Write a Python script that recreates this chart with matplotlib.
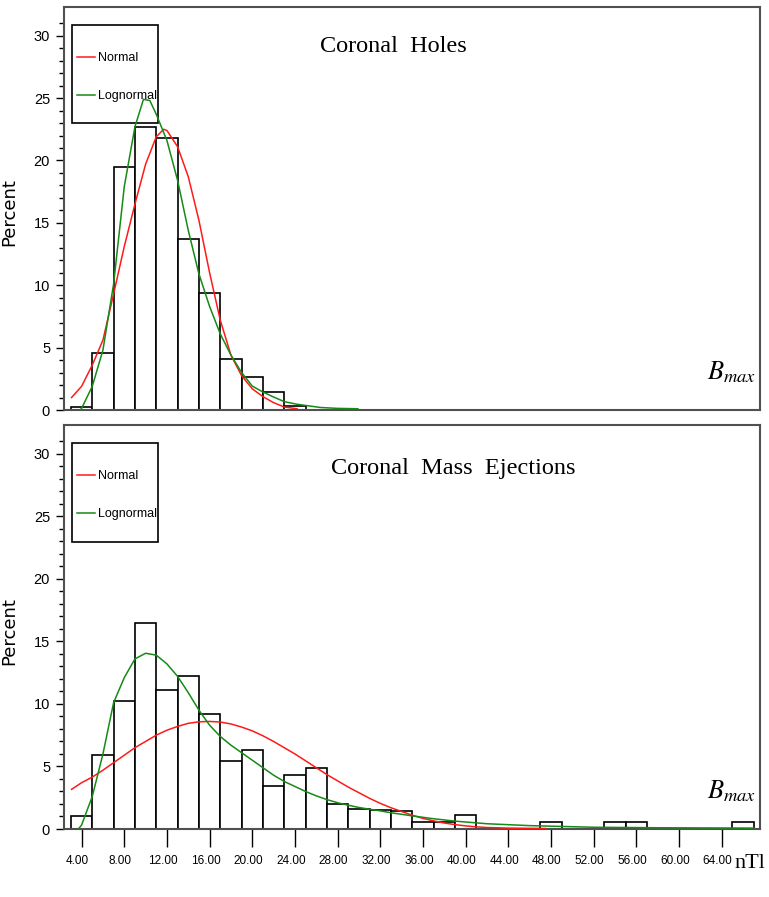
import matplotlib
matplotlib.use("Agg")
import matplotlib.pyplot as plt
import matplotlib.transforms as mtransforms
from matplotlib.lines import Line2D
from matplotlib.patches import Rectangle

# histogram bins (centres, width 2) and percentages
ch_bins = [4, 6, 8, 10, 12, 14, 16, 18, 20, 22, 24]
ch_pct = [0.25, 4.6, 19.5, 22.7, 21.8, 13.7, 9.4, 4.05, 2.67, 1.47, 0.32]

cme_bins = [4, 6, 8, 10, 12, 14, 16, 18, 20, 22, 24, 26, 28, 30, 32, 34,
            36, 38, 40, 42, 44, 46, 48, 50, 52, 54, 56, 58, 60, 62, 64, 66]
cme_pct = [1.06, 5.94, 10.2, 16.5, 11.15, 12.2, 9.18, 5.4, 6.3, 3.43, 4.34, 4.9,
           1.97, 1.57, 1.5, 1.46, 0.53, 0.53, 1.1, 0, 0, 0, 0.53, 0, 0, 0.53,
           0.53, 0, 0, 0, 0, 0.53]

# fitted curves
ch_norm_x = [3.06, 4, 5, 6, 7, 8, 9, 10, 11, 11.7, 12, 13, 14, 15, 16, 17, 18,
             19, 20, 21, 22, 23, 24.2]
ch_norm_y = [1.0, 1.9, 3.6, 5.6, 9.3, 13.1, 16.5, 19.7, 21.9, 22.5, 22.4, 21.1,
             18.7, 15.2, 11.0, 7.2, 4.4, 2.75, 1.7, 1.07, 0.59, 0.24, 0.1]
ch_logn_x = [3.85, 4, 5, 6, 7, 8, 9, 9.8, 10.4, 11, 12, 13, 14, 15, 16, 17, 18,
             19, 20, 21, 22, 23, 24.2, 25.3, 26.4, 28, 29.9]
ch_logn_y = [0, 0.13, 1.9, 4.8, 10.1, 17.9, 22.7, 24.9, 24.8, 23.7, 21.6, 18.4,
             14.4, 10.9, 8.3, 6.1, 4.4, 3.0, 1.92, 1.44, 1.04, 0.67, 0.46, 0.33,
             0.2, 0.13, 0.1]

cme_norm_x = [3.06, 4, 5, 6, 7, 8, 9, 10, 11, 12, 13, 14, 15, 16, 17, 18, 19,
              20, 21, 22, 23, 24, 25, 26, 27, 28, 29, 30, 31, 32, 33, 34, 35,
              36, 37, 38, 39, 40, 41, 42, 44, 47.5]
cme_norm_y = [3.17, 3.7, 4.15, 4.7, 5.3, 5.9, 6.5, 7.0, 7.5, 7.9, 8.2, 8.45,
              8.57, 8.6, 8.55, 8.4, 8.15, 7.85, 7.45, 7.0, 6.5, 6.0, 5.45, 4.9,
              4.35, 3.85, 3.35, 2.9, 2.45, 2.05, 1.7, 1.4, 1.1, 0.85, 0.65,
              0.48, 0.35, 0.25, 0.17, 0.12, 0.07, 0.04]
cme_logn_x = [3.7, 4, 5, 6, 7, 8, 9, 10, 11, 12, 13, 14, 15, 16, 17, 18, 19,
              20, 21, 22, 23, 24, 25, 26, 27, 28, 29, 30, 31, 32, 33, 35, 37,
              39, 42, 46, 52, 58, 67]
cme_logn_y = [0, 0.32, 2.6, 6.0, 10.1, 12.1, 13.6, 14.05, 13.9, 13.2, 12.2,
              10.9, 9.5, 8.3, 7.4, 6.7, 6.1, 5.5, 4.9, 4.3, 3.8, 3.4, 3.0, 2.65,
              2.35, 2.1, 1.9, 1.72, 1.58, 1.45, 1.3, 1.05, 0.82, 0.63, 0.42,
              0.27, 0.14, 0.1, 0.07]

xticks = list(range(4, 65, 4))
xticklabels = ["%.2f" % t for t in xticks]

sans = ["Liberation Sans", "DejaVu Sans"]
serif = ["Liberation Serif", "DejaVu Serif"]
plt.rcParams["mathtext.fontset"] = "stix"

fig = plt.figure(figsize=(7.69, 8.97), dpi=100)
W, H = 769.0, 897.0
ax1 = fig.add_axes([64 / W, 1 - 410 / H, 696 / W, 403 / H])
ax2 = fig.add_axes([64 / W, 1 - 829 / H, 696 / W, 404 / H])


def panel(ax, bins, pct, nx, ny, lx, ly, title, tx, ty):
    ax.bar(bins, pct, width=2, color="white", edgecolor="black", linewidth=1.2, zorder=2)
    ax.plot(nx, ny, color="#ff1a1a", lw=1.1, zorder=4)
    ax.plot(lx, ly, color="#168a16", lw=1.1, zorder=4)
    ax.set_xlim(2.35, 67.6)
    ax.set_ylim(0, 32.3)
    for s in ax.spines.values():
        s.set_color("#505050")
        s.set_linewidth(1.5)
    ax.set_yticks(range(0, 31, 5))
    ax.set_yticks(range(0, 32), minor=True)
    ax.tick_params(axis="y", which="major", length=6, width=1, pad=4, labelsize=10.5)
    ax.tick_params(axis="y", which="minor", length=3.8, width=1)
    for lab in ax.get_yticklabels():
        lab.set_family(sans)
    ax.set_ylabel("Percent", fontsize=13, labelpad=0)
    ax.yaxis.set_label_coords(-0.066, 0.49)
    ax.text(tx, ty, title, transform=ax.transAxes, ha="center", va="center",
            family=serif, fontsize=17.5)
    ax.text(0.924, 0.075, r"$B_{max}$", transform=ax.transAxes, ha="left",
            va="baseline", fontsize=19)
    # legend box drawn on its own, the fitted curves run over it in the original
    ax.add_patch(Rectangle((0.011, 0.711), 0.1245, 0.244, transform=ax.transAxes,
                           facecolor="white", edgecolor="black", lw=1.2, zorder=3))
    handles = [Line2D([], [], color="#ff1a1a", lw=1.1),
               Line2D([], [], color="#168a16", lw=1.1)]
    leg = ax.legend(handles, ["Normal", "Lognormal"], loc="upper left",
                    bbox_to_anchor=(0.0182, 0.888), borderaxespad=0,
                    frameon=False, prop={"family": sans, "size": 9},
                    handlelength=1.45, handletextpad=0.25, labelspacing=2.1,
                    borderpad=0)
    leg.set_zorder(3.5)


panel(ax1, ch_bins, ch_pct, ch_norm_x, ch_norm_y, ch_logn_x, ch_logn_y,
      "Coronal  Holes", (393 - 64) / 696, (410 - 46) / 403)
panel(ax2, cme_bins, cme_pct, cme_norm_x, cme_norm_y, cme_logn_x, cme_logn_y,
      "Coronal  Mass  Ejections", (453 - 64) / 696, (829 - 468) / 404)

ax1.tick_params(axis="x", bottom=False, labelbottom=False)
ax2.set_xticks(xticks)
ax2.set_xticklabels(xticklabels, family=sans, fontsize=8.5)
ax2.tick_params(axis="x", length=13, width=1, pad=6)
shift = mtransforms.ScaledTranslation(-4 / 100, 0, fig.dpi_scale_trans)
for lab in ax2.get_xticklabels():
    lab.set_transform(lab.get_transform() + shift)

fig.text(734 / W, 1 - 863 / H, "nTl", ha="left", va="center", family=serif,
         fontsize=16)

fig.savefig("out.png", dpi=100)
